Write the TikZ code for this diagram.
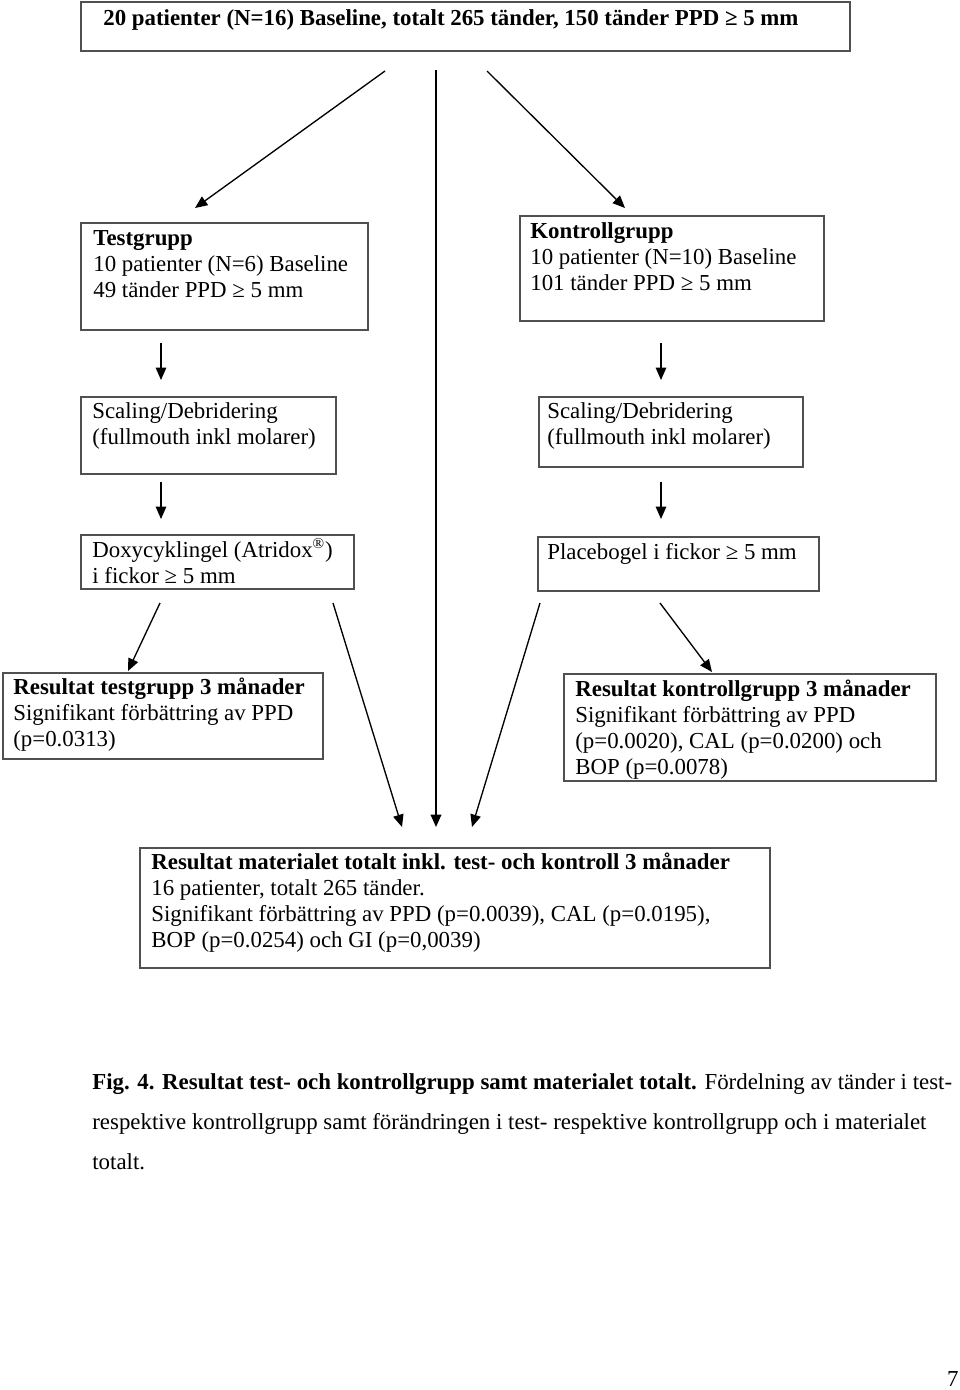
\documentclass[tikz,border=0pt]{standalone}
\usepackage{fontspec}
\setmainfont{Liberation Serif}
\usetikzlibrary{arrows.meta,fit}
\definecolor{boxgray}{HTML}{505050}
\begin{document}
\begin{tikzpicture}[x=0.525pt,y=-0.525pt,
  box/.style={draw=boxgray,line width=0.8pt,inner sep=0pt},
  % multi-line nodes: base anchor sits on the LAST line's baseline
  txt/.style={anchor=base west,inner sep=0pt,align=left,font=\fontsize{12}{13.65}\selectfont},
  arr/.style={line width=0.7pt,-{Triangle[length=6.5pt,width=5.5pt]}},
  trunk/.style={line width=1.1pt,-{Triangle[length=6.5pt,width=5.5pt]}},
]
\useasboundingbox (0,0) rectangle (960,1390);

% boxes
\node[box,fit={(81,2)(850,51)}] (top) {};
\node[box,fit={(81,223)(368,330)}] (testg) {};
\node[box,fit={(520,216)(824,321)}] (kontr) {};
\node[box,fit={(81,397)(336,474)}] (scalL) {};
\node[box,fit={(539,397)(803,467)}] (scalR) {};
\node[box,fit={(81,535)(354,589)}] (doxy) {};
\node[box,fit={(538,537)(819,591)}] (plac) {};
\node[box,fit={(3,673)(323,759)}] (resT) {};
\node[box,fit={(564,674)(936,781)}] (resK) {};
\node[box,fit={(140,848)(770,968)}] (mat) {};

% texts
\node[txt] (topt) at (103,25) {\bfseries 20 patienter (N=16) Baseline, totalt 265 tänder, 150 tänder PPD ≥ 5 mm};
\node[txt] (testgt) at (93,297) {\textbf{Testgrupp}\\10 patienter (N=6) Baseline\\49 tänder PPD ≥ 5 mm};
\node[txt] (kontrt) at (530,290) {\textbf{Kontrollgrupp}\\10 patienter (N=10) Baseline\\101 tänder PPD ≥ 5 mm};
\node[txt] (scalLt) at (92,444) {Scaling/Debridering\\(fullmouth inkl molarer)};
\node[txt] (scalRt) at (547,444) {Scaling/Debridering\\(fullmouth inkl molarer)};
\node[txt] (doxyt) at (92,583) {Doxycyklingel (Atridox\textsuperscript{®})\\i fickor ≥ 5 mm};
\node[txt] (plact) at (547,559) {Placebogel i fickor ≥ 5 mm};
\node[txt] (resTt) at (13,746) {\textbf{Resultat testgrupp 3 månader}\\Signifikant förbättring av PPD\\(p=0.0313)};
\node[txt] (resKt) at (575,774) {\textbf{Resultat kontrollgrupp 3 månader}\\Signifikant förbättring av PPD\\(p=0.0020), CAL (p=0.0200) och\\BOP (p=0.0078)};
\node[txt] (matt) at (151,947) {\textbf{Resultat materialet totalt inkl. test- och kontroll 3 månader}\\16 patienter, totalt 265 tänder.\\Signifikant förbättring av PPD (p=0.0039), CAL (p=0.0195),\\BOP (p=0.0254) och GI (p=0,0039)};
\node[txt,font=\fontsize{12}{21}\selectfont] (cap) at (92,1169) {\textbf{Fig. 4. Resultat test- och kontrollgrupp samt materialet totalt.} Fördelning av tänder i test-\\respektive kontrollgrupp samt förändringen i test- respektive kontrollgrupp och i materialet\\totalt.};
\node[anchor=base east,inner sep=0pt,font=\fontsize{12}{14}\selectfont] (pnum) at (959,1386) {7};

% connector end points
\coordinate (a1s) at (385,71);  \coordinate (a1e) at (195,208);
\coordinate (a2s) at (487,71);  \coordinate (a2e) at (625,208);
\coordinate (cs)  at (436,70);  \coordinate (ce)  at (436,827);
\coordinate (l1s) at (161,343); \coordinate (l1e) at (161,380);
\coordinate (l2s) at (161,482); \coordinate (l2e) at (161,519);
\coordinate (r1s) at (661,343); \coordinate (r1e) at (661,380);
\coordinate (r2s) at (661,482); \coordinate (r2e) at (661,519);
\coordinate (d1s) at (160,603); \coordinate (d1e) at (128,671);
\coordinate (d2s) at (333,603); \coordinate (d2e) at (402,827);
\coordinate (p1s) at (540,603); \coordinate (p1e) at (472,827);
\coordinate (p2s) at (660,603); \coordinate (p2e) at (712,672);

% connectors
\draw[arr] (a1s) -- (a1e);
\draw[arr] (a2s) -- (a2e);
\draw[trunk] (cs) -- (ce);
\draw[arr] (l1s) -- (l1e);
\draw[arr] (l2s) -- (l2e);
\draw[arr] (r1s) -- (r1e);
\draw[arr] (r2s) -- (r2e);
\draw[arr] (d1s) -- (d1e);
\draw[arr] (d2s) -- (d2e);
\draw[arr] (p1s) -- (p1e);
\draw[arr] (p2s) -- (p2e);
\end{tikzpicture}
\end{document}
